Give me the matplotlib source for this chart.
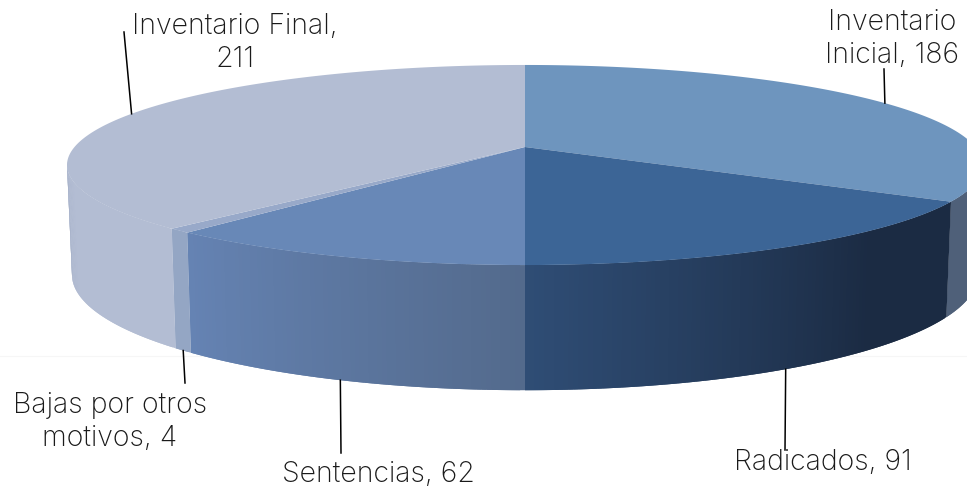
import numpy as np
import matplotlib
matplotlib.use("Agg")
from matplotlib import pyplot as plt
from matplotlib.colors import to_rgb

names = ["Inventario\nInicial", "Radicados", "Sentencias", "Bajas por otros\nmotivos", "Inventario Final"]
values = [186, 91, 62, 4, 211]
seps = [", ", ", ", ", ", ", ", ",\n"]

top_colors = ["#6E95BE", "#3C6596", "#6888B7", "#98A9C9", "#B3BDD3"]
# side colour at the start and the end of each slice (clockwise)
side_start = ["#4F6079", "#1B2B43", "#536A8C", "#94A6C4", "#B3BDD3"]
side_end = ["#4F6079", "#2F4D75", "#6583B3", "#94A6C4", "#A6B2CB"]
side_flat = [0, 0.3, 0, 0, 0.7]

# where the labels sit, in pixels: text centre, end of the leader line
label_pos = [(892, 39), (823, 463), (378, 475), (110, 422), (235, 43)]
leader_end = [(884, 69), (785, 450), (341, 453), (185, 383), (124, 32)]

# perspective of the pie, fitted by eye
cx = 525
k = 0.18
top_a, top_b, top_c = 450.5, 96.8, 147
bot_a, bot_b, bot_c = 445.6, 111.7, 254


def project(theta, a, b, c):
    # theta is clockwise from 12 o'clock
    u, v = np.sin(theta), np.cos(theta)
    w = 1 + k * v
    return cx + a * u / w, c - b * v / w


fig = plt.figure(figsize=(9.67, 4.88), dpi=100)
ax = fig.add_axes([0, 0, 1, 1])
ax.set_xlim(0, 967)
ax.set_ylim(488, 0)
ax.axis("off")

ax.plot([0, 967], [355.5, 355.5], color="#F6F6F6", lw=0.8, zorder=1)

edges = np.cumsum([0] + values) / sum(values) * 2 * np.pi
front_right = np.arccos(-k)
front_left = 2 * np.pi - front_right

for i in range(len(values)):
    t0, t1 = edges[i], edges[i + 1]

    # side wall: strips overlap the next ones so no seams show
    s0, s1 = max(t0, front_right - 0.03), min(t1, front_left + 0.03)
    if s1 > s0:
        ts = np.linspace(s0, s1, int((s1 - s0) * 110) + 3)
        c0, c1 = np.array(to_rgb(side_start[i])), np.array(to_rgb(side_end[i]))
        for j in range(len(ts) - 1):
            part = ts[j:j + 3]
            xa, ya = project(part, top_a, top_b, top_c)
            xb, yb = project(part, bot_a, bot_b, bot_c)
            frac = j / max(len(ts) - 2, 1)
            frac = max(0, (frac - side_flat[i]) / (1 - side_flat[i]))
            ax.fill(np.r_[xa, xb[::-1]], np.r_[ya, yb[::-1]], color=c0 + (c1 - c0) * frac, lw=0, zorder=2)

    # top face
    ts = np.linspace(t0, t1, 200)
    x, y = project(ts, top_a, top_b, top_c)
    ax.fill(np.r_[cx, x], np.r_[top_c, y], color=top_colors[i], lw=0, zorder=3)

plt.rcParams["font.family"] = ["Inter", "DejaVu Sans"]
for i in range(len(values)):
    mid = (edges[i] + edges[i + 1]) / 2
    if front_right < mid < front_left:
        x, y = project(mid, bot_a, bot_b, bot_c)
    else:
        x, y = project(mid, top_a, top_b, top_c)
    ax.plot([x, leader_end[i][0]], [y, leader_end[i][1]], color="#000000", lw=1.1, zorder=4)
    ax.text(label_pos[i][0], label_pos[i][1], names[i] + seps[i] + str(values[i]),
            ha="center", va="center", fontsize=20.5, fontweight="light", color="#1A1A1A", linespacing=1.33, zorder=5)

fig.savefig("out.png", dpi=100)
